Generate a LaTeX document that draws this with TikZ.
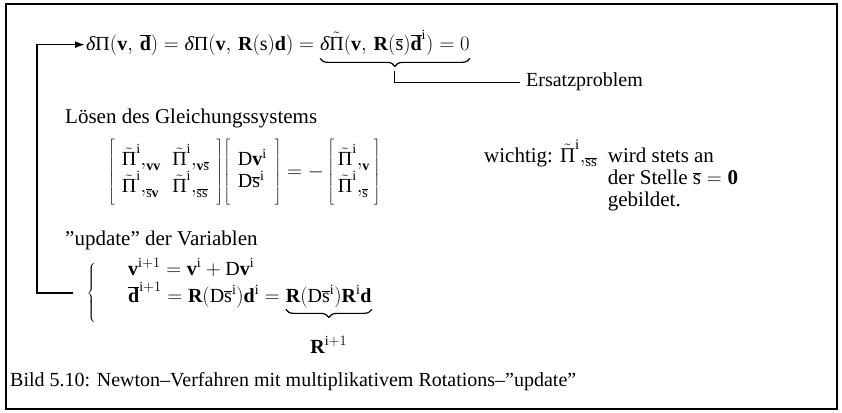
\documentclass[tikz,border=0pt]{standalone}
\usepackage{fontspec}
\setmainfont{Liberation Serif}
\usetikzlibrary{arrows.meta,decorations.pathreplacing,calc}
\newcommand{\myPi}{\hbox{Π}}
\newcommand{\myPit}{\tilde{\hbox{Π}}}
\newcommand{\mydelta}{\hbox{\itshape δ}}
\newcommand{\myv}{\mathbf{v}}
\newcommand{\myd}{\mathbf{d}}
\newcommand{\myR}{\mathbf{R}}
\newcommand{\mydbar}{\overline{\mathbf{d}}}
\newcommand{\mysbar}{\overline{\mathrm{s}}}
\newcommand{\myi}{\mathrm{i}}
\newcommand{\mystrut}{\vcenter{\hbox{\rule{0pt}{68bp}}}}
\begin{document}
\begin{tikzpicture}[x=1bp,y=-1bp,
  txt/.style={inner sep=0pt, font=\fontsize{20bp}{24bp}\selectfont},
  bigtxt/.style={inner sep=0pt, font=\fontsize{21bp}{24bp}\selectfont},
  frame/.style={line width=1.8bp},
  loopline/.style={line width=1.5bp},
  brc/.style={line width=1.2bp, decorate, decoration={brace,mirror,amplitude=8bp}},
  thinline/.style={line width=1bp}
]
\useasboundingbox (0,0) rectangle (842,412);
\draw[frame] (6,4) rectangle (837,409);

% main equation
\node[txt, anchor=base west] (eqa) at (86,50)
  {$\mydelta\myPi(\myv,\,\mydbar) = \mydelta\myPi(\myv,\,\myR(\mathrm{s})\myd) ={}$};
\node[txt, anchor=base west] (eqb) at (eqa.base east)
  {$\mydelta\myPit(\myv,\,\myR(\mysbar)\mydbar^{\myi})$};
\node[txt, anchor=base west] (eqc) at (eqb.base east) {${}=0$};
\draw[brc] ([yshift=-3bp]eqb.south west) -- ([yshift=-3bp]eqb.south west -| eqc.east)
  coordinate[midway] (bm);
\coordinate (bt) at ([yshift=-13bp]bm);
\node[txt, anchor=west, inner xsep=6bp] (ers) at (520,82) {Ersatzproblem};
\draw[thinline] (bt) |- (ers.west);

% loop arrow
\coordinate (lb) at (73,293);
\coordinate (lc) at (37,293);
\draw[loopline, -{Latex[length=10bp,width=7bp]}, shorten >=1bp] (lb) -- (lc) |- (eqa.west);

% solving
\node[bigtxt, anchor=base west] (los) at (65,123) {Lösen des Gleichungssystems};
\node[txt, anchor=west] (mat) at (108,172)
  {$\left[\mystrut\hspace{7bp}\begin{array}{@{}l@{\;\;}l@{}}
     \myPit^{\myi}{,}_{\myv\myv} & \myPit^{\myi}{,}_{\myv\mysbar}\\[-2bp]
     \myPit^{\myi}{,}_{\mysbar\myv} & \myPit^{\myi}{,}_{\mysbar\mysbar}
   \end{array}\hspace{7bp}\right]\!
   \left[\mystrut\hspace{8bp}\begin{array}{@{}l@{}}
     \mathrm{D}\myv^{\myi}\\[-2bp] \mathrm{D}\mysbar^{\myi}
   \end{array}\hspace{8bp}\right]
   = -\left[\mystrut\hspace{4bp}\begin{array}{@{}l@{}}
     \myPit^{\myi}{,}_{\myv}\\[-2bp] \myPit^{\myi}{,}_{\mysbar}
   \end{array}\hspace{4bp}\right]$};
\node[bigtxt, anchor=base west, font=\fontsize{21bp}{22bp}\selectfont] (wich) at (484,162)
  {\begin{tabular}[t]{@{}l@{\ \ }l@{}}
   wichtig: $\myPit^{\myi}{,}_{\mysbar\mysbar}$ & wird stets an\\
   & der Stelle $\mysbar = \mathbf{0}$\\
   & gebildet.
   \end{tabular}};

% update
\node[bigtxt, anchor=base west] (upd) at (65,245) {”update” der Variablen};
\node[txt] (cb) at (92,293) {$\left\{\vcenter{\hbox{\rule{0pt}{62bp}}}\right.$};
\node[txt, anchor=base west] (r1) at (128,275)
  {$\myv^{\myi+1} = \myv^{\myi} + \mathrm{D}\myv^{\myi}$};
\node[txt, anchor=base west] (r2a) at (128,302)
  {$\mydbar^{\myi+1} = \myR(\mathrm{D}\mysbar^{\myi})\myd^{\myi} ={}$};
\node[txt, anchor=base west] (r2b) at (r2a.base east)
  {$\myR(\mathrm{D}\mysbar^{\myi})\myR^{\myi}\myd$};
\draw[brc] ([yshift=-2bp]r2b.south west) -- ([yshift=-2bp]r2b.south east);
\node[txt, anchor=north] (rl) at ([yshift=-29bp]r2b.south) {$\myR^{\myi+1}$};

% caption
\node[txt, anchor=base west] (cap) at (10,386)
  {Bild 5.10: Newton–Verfahren mit multiplikativem Rotations–”update”};
\end{tikzpicture}
\end{document}
